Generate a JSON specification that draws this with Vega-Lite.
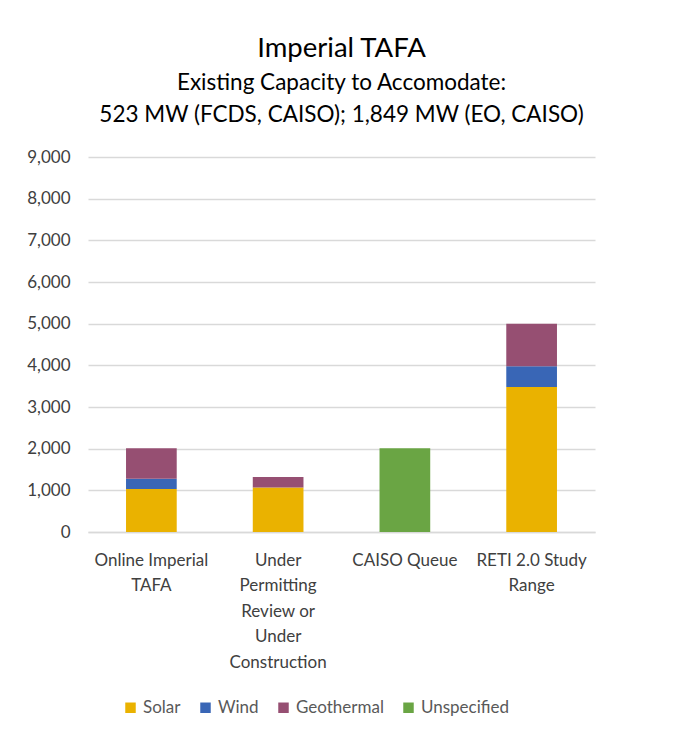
{
  "$schema": "https://vega.github.io/schema/vega-lite/v6.json",
  "width": 507,
  "height": 375,
  "autosize": {"type": "none"},
  "padding": {"left": 88, "top": 157, "right": 78, "bottom": 206},
  "background": "white",
  "title": {
    "text": "Imperial TAFA",
    "subtitle": ["Existing Capacity to Accomodate:", "523 MW (FCDS, CAISO); 1,849 MW (EO, CAISO)"],
    "font": "Lato",
    "fontSize": 27.5,
    "fontWeight": "normal",
    "color": "#000000",
    "subtitleFont": "Lato",
    "subtitleFontSize": 22.5,
    "subtitleColor": "#000000",
    "subtitleLineHeight": 32,
    "subtitlePadding": 9,
    "anchor": "middle",
    "frame": "group",
    "offset": 22
  },
  "data": {
    "values": [
      {"category": "Online Imperial|TAFA", "type": "Solar", "mw": 1030},
      {"category": "Online Imperial|TAFA", "type": "Wind", "mw": 250},
      {"category": "Online Imperial|TAFA", "type": "Geothermal", "mw": 730},
      {"category": "Under|Permitting|Review or|Under|Construction", "type": "Solar", "mw": 1070},
      {"category": "Under|Permitting|Review or|Under|Construction", "type": "Geothermal", "mw": 250},
      {"category": "CAISO Queue", "type": "Unspecified", "mw": 2010},
      {"category": "RETI 2.0 Study|Range", "type": "Solar", "mw": 3480},
      {"category": "RETI 2.0 Study|Range", "type": "Wind", "mw": 500},
      {"category": "RETI 2.0 Study|Range", "type": "Geothermal", "mw": 1020}
    ]
  },
  "transform": [
    {"calculate": "indexof(['Solar','Wind','Geothermal','Unspecified'], datum.type)", "as": "stackOrder"}
  ],
  "mark": {"type": "bar"},
  "encoding": {
    "x": {
      "field": "category",
      "type": "nominal",
      "sort": null,
      "scale": {"paddingInner": 0.6, "paddingOuter": 0.3},
      "axis": {
        "title": null,
        "labelAngle": 0,
        "labelExpr": "split(datum.value, '|')",
        "labelFont": "Lato",
        "labelFontSize": 17,
        "labelColor": "#404040",
        "labelLineHeight": 25.5,
        "labelPadding": 20,
        "labelBaseline": "top",
        "ticks": false,
        "domain": true,
        "domainColor": "#D9D9D9",
        "domainWidth": 1.5
      }
    },
    "y": {
      "field": "mw",
      "type": "quantitative",
      "stack": "zero",
      "scale": {"domain": [0, 9000]},
      "axis": {
        "title": null,
        "values": [0, 1000, 2000, 3000, 4000, 5000, 6000, 7000, 8000, 9000],
        "format": ",d",
        "labelFont": "Lato",
        "labelFontSize": 17,
        "labelColor": "#404040",
        "labelPadding": 18,
        "ticks": false,
        "domain": false,
        "gridColor": "#D9D9D9",
        "gridWidth": 1.5
      }
    },
    "order": {"field": "stackOrder", "type": "quantitative", "sort": "ascending"},
    "color": {
      "field": "type",
      "type": "nominal",
      "sort": ["Solar", "Wind", "Geothermal", "Unspecified"],
      "scale": {
        "domain": ["Solar", "Wind", "Geothermal", "Unspecified"],
        "range": ["#EAB200", "#3966B6", "#964F72", "#6AA544"]
      },
      "legend": {
        "title": null,
        "orient": "none",
        "legendX": 34,
        "legendY": 542,
        "direction": "horizontal",
        "symbolType": "square",
        "symbolSize": 110,
        "symbolStrokeWidth": 0,
        "labelFont": "Lato",
        "labelFontSize": 17,
        "labelColor": "#595959",
        "columnPadding": 16,
        "labelOffset": 4
      }
    }
  },
  "config": {
    "view": {"stroke": null}
  }
}
